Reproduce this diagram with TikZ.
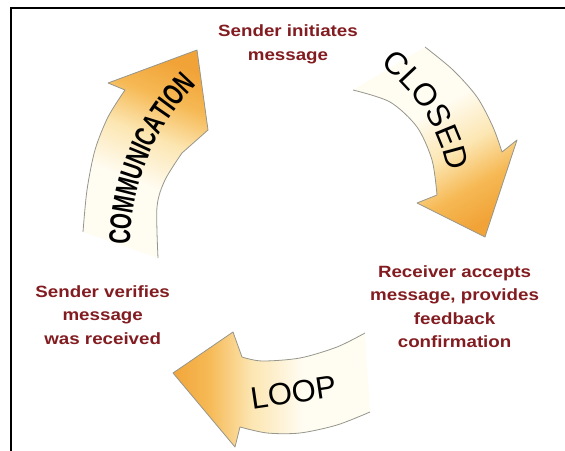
\documentclass[tikz,border=0pt]{standalone}
\usepackage{fontspec}
\setmainfont{Liberation Sans}
\newfontfamily\notefont[FakeStretch=1.15]{Liberation Sans}
\newfontfamily\narrowfont[FakeStretch=0.68]{Liberation Sans}
\usetikzlibrary{decorations.text}

\definecolor{notered}{RGB}{130,28,32}
\definecolor{rimgray}{RGB}{150,150,140}
\definecolor{fadepale}{RGB}{255,252,242}
\definecolor{fademid}{RGB}{252,230,178}
\definecolor{fadeorange}{RGB}{246,185,85}
\definecolor{fadedeep}{RGB}{241,163,55}

% pale tail fading into an orange head
\pgfdeclareverticalshading{arrowfade}{100bp}{color(0bp)=(fadepale); color(42bp)=(fadepale); color(55bp)=(fademid); color(66bp)=(fadeorange); color(76bp)=(fadedeep); color(100bp)=(fadedeep)}

\tikzset{
  swoosh/.style={shading=arrowfade},
  rim/.style={draw=rimgray, line width=0.8pt, line join=round},
  note/.style={text=notered, font=\notefont\bfseries\fontsize{16.3}{23.5}\selectfont,
    align=center, inner sep=0pt, anchor=north},
  biglabel/.style={font=\fontsize{31}{31}\selectfont, inner sep=0pt},
}

\begin{document}
\begin{tikzpicture}[x=1pt,y=1pt]
\useasboundingbox (0,0) rectangle (565,450);

% frame on the top and left edges
\draw[line width=2.3pt] (11.2,-3) -- (11.2,442.2) -- (568,442.2);

% ---- left arrow (pointing up) ----
\shade[swoosh, shading angle=-21.5] (83,218)
  -- plot[smooth] coordinates {(83,218) (87,260) (95,300) (108,333) (125,360)}
  -- (108,367) -- (197,400) -- (208,320) -- (182,297)
  -- plot[smooth] coordinates {(182,297) (165,270) (157,243) (158,192)} -- cycle;
\draw[rim] plot[smooth] coordinates {(83,218) (87,260) (95,300) (108,333) (125,360)}
  -- (108,367) -- (197,400) -- (208,320) -- (182,297)
  -- plot[smooth] coordinates {(182,297) (165,270) (157,243) (158,192)};

% ---- right arrow (pointing down) ----
\shade[swoosh, shading angle=-150] (425,403)
  -- plot[smooth] coordinates {(425,403) (453,380) (477,353) (493,323) (502,298)}
  -- (517,310) -- (485,213) -- (417,247) -- (437,255)
  -- plot[smooth] coordinates {(437,255) (432,290) (417,323) (390,348) (353,360)} -- cycle;
\draw[rim] plot[smooth] coordinates {(425,403) (453,380) (477,353) (493,323) (502,298)}
  -- (517,310) -- (485,213) -- (417,247) -- (437,255)
  -- plot[smooth] coordinates {(437,255) (432,290) (417,323) (390,348) (353,360)};

% ---- bottom arrow (pointing left) ----
\shade[swoosh, shading angle=90] (365,117)
  -- plot[smooth] coordinates {(365,117) (337,103) (300,92) (262,89) (242,93)}
  -- (233,118) -- (173,77) -- (235,3) -- (240,23)
  -- plot[smooth] coordinates {(240,23) (267,17) (300,17) (337,25) (370,38)} -- cycle;
\draw[rim] plot[smooth] coordinates {(365,117) (337,103) (300,92) (262,89) (242,93)}
  -- (233,118) -- (173,77) -- (235,3) -- (240,23)
  -- plot[smooth] coordinates {(240,23) (267,17) (300,17) (337,25) (370,38)};

% ---- words set along the arrows ----
\path[decorate, decoration={text along path, text align=left,
    text={|\narrowfont\bfseries\fontsize{30}{30}\selectfont|COMMUNICATION}}]
  (357,204) ++(179.7:227) arc[start angle=179.7, end angle=120, radius=227];
\path[decorate, decoration={text along path, text align=left,
    text={|\fontsize{31.5}{31.5}\selectfont|CLOSED}}]
  (275,243) ++(53.5:177) arc[start angle=53.5, end angle=0, radius=177];
\node[biglabel, rotate=8.4] (looplabel) at (293.5,57.5) {LOOP};

% ---- step descriptions ----
\node[note] (initiate) at (288,425.3) {Sender initiates\\message};
\node[note] (receive) at (454.6,185) {Receiver accepts\\message, provides\\feedback\\confirmation};
\node[note] (verify) at (102.7,165) {Sender verifies\\message\\was received};
\end{tikzpicture}
\end{document}
